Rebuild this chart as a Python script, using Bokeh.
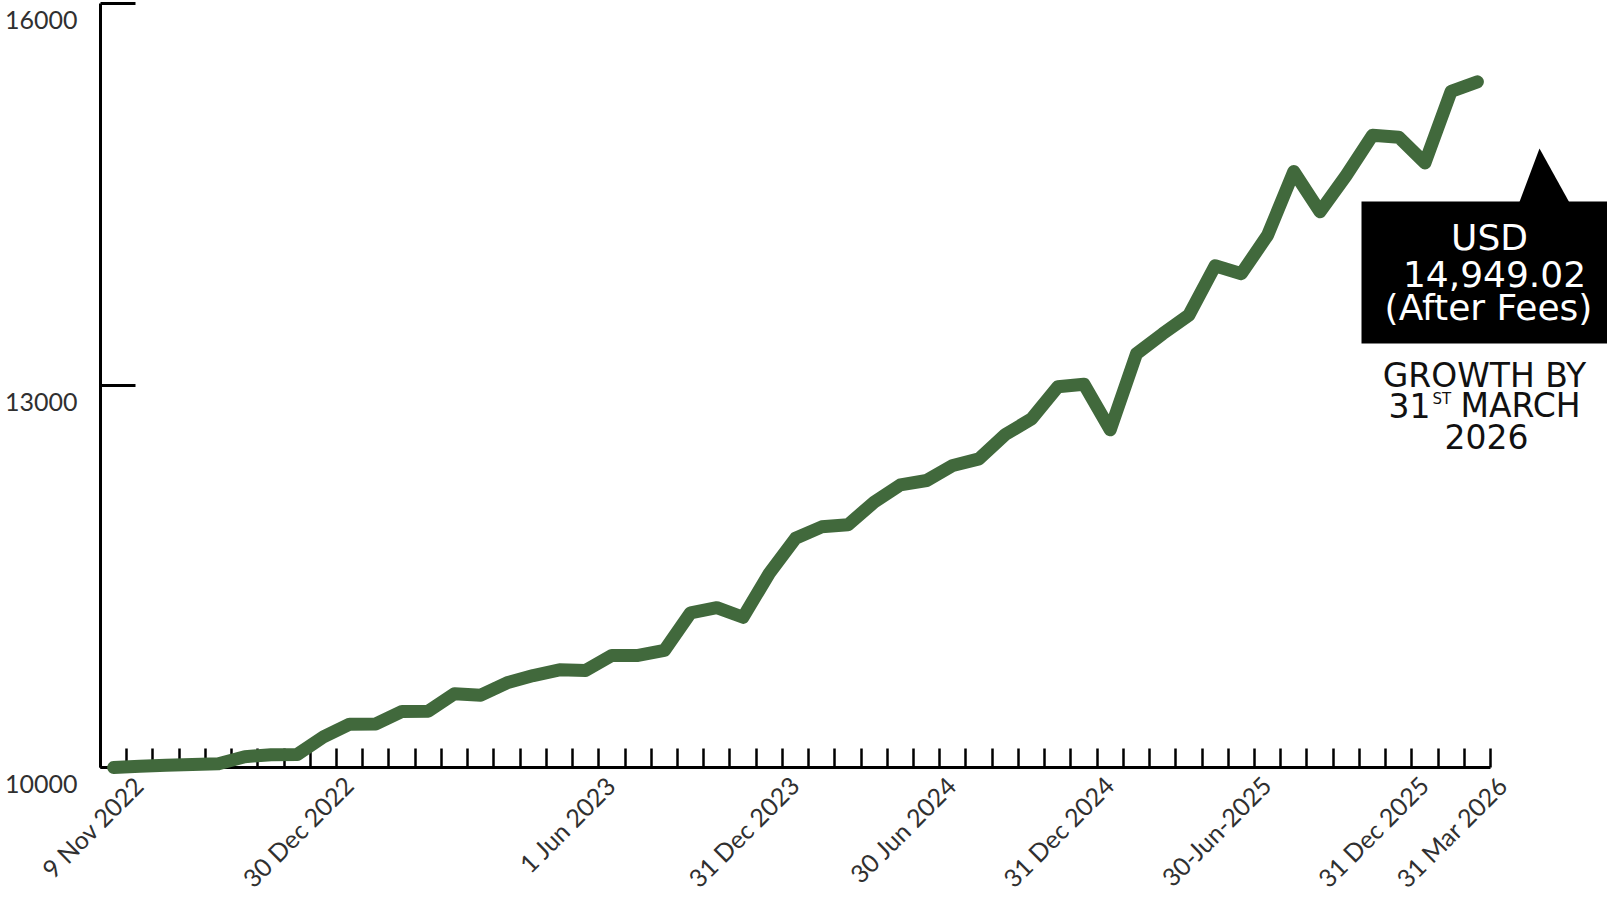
import math
from bokeh.plotting import figure
from bokeh.models import Range1d, LinearAxis, FixedTicker
from bokeh.core.properties import value
from bokeh.embed import file_html
from bokeh.resources import INLINE

# ---- data ----
values = [10000, 10010, 10018, 10024, 10029, 10085, 10100, 10102, 10240, 10340,
          10342, 10440, 10442, 10580, 10568, 10665, 10722, 10767, 10762, 10880,
          10880, 10919, 11215, 11255, 11180, 11525, 11800, 11890, 11906, 12084,
          12220, 12254, 12372, 12424, 12615, 12738, 12990, 13010, 12652, 13249,
          13406, 13553, 13940, 13878, 14180, 14680, 14364, 14650, 14965, 14950,
          14748, 15310, 15385]
label_idx = [0, 8, 18, 25, 31, 37, 43, 49, 52]
label_text = ["9 Nov 2022", "30 Dec 2022", "1 Jun 2023", "31 Dec 2023", "30 Jun 2024",
              "31 Dec 2024", "30-Jun-2025", "31 Dec 2025", "31 Mar 2026"]
y_ticks = [10000, 13000, 16000]
y_tick_labels = ["10000", "13000", "16000"]
callout_lines = ["USD", "14,949.02", "(After Fees)"]
growth_line1 = "GROWTH BY"
growth_line2 = ["31", "ST", "MARCH"]
growth_line3 = "2026"

# ---- layout ----
W, H = 1607, 893
N = len(values)
AX_X, AX_RIGHT = 100, 1490     # screen x of category 0 edge / last edge
AX_Y, TOP_Y = 767, 3           # screen y of 10000 / 16000
ux = (AX_RIGHT - AX_X) / N
uy = (AX_Y - TOP_Y) / (y_ticks[-1] - y_ticks[0])
x_range = Range1d(-AX_X / ux, (W - AX_X) / ux)
y_range = Range1d(y_ticks[0] - (H - AX_Y) / uy, y_ticks[-1] + TOP_Y / uy)


def X(sx):
    return x_range.start + sx / ux


def Y(sy):
    return y_range.end - sy / uy


LABEL_SHIFT = 0.95
GREEN = "#41693C"
BOX_FONT = value("DejaVu Sans")

p = figure(width=W, height=H, output_backend="svg", toolbar_location=None,
           x_range=x_range, y_range=y_range, x_axis_location=None, y_axis_location=None,
           min_border=0, outline_line_color=None, background_fill_color="white")
p.xgrid.visible = False
p.ygrid.visible = False

label_pos = [i + 0.5 + LABEL_SHIFT for i in label_idx]
xaxis = LinearAxis(ticker=FixedTicker(ticks=label_pos, minor_ticks=list(range(N + 1))),
                   fixed_location=y_ticks[0], bounds=(0, N))
xaxis.major_label_overrides = {t: s for t, s in zip(label_pos, label_text)}
xaxis.axis_line_width = 3
xaxis.axis_line_color = "black"
xaxis.major_tick_line_color = None
xaxis.minor_tick_in = 19
xaxis.minor_tick_out = 0
xaxis.minor_tick_line_width = 2.5
xaxis.minor_tick_line_color = "black"
xaxis.major_label_orientation = math.pi / 4
xaxis.major_label_standoff = 7
xaxis.major_label_text_font = "Lato"
xaxis.major_label_text_font_size = "25px"
xaxis.major_label_text_color = "#303030"
p.add_layout(xaxis, "below")

yaxis = LinearAxis(ticker=FixedTicker(ticks=y_ticks), fixed_location=0,
                   bounds=(y_ticks[0], y_ticks[-1]))
yaxis.major_label_overrides = {v: "" for v in y_ticks}
yaxis.axis_line_width = 3
yaxis.axis_line_color = "black"
yaxis.major_tick_in = 35
yaxis.major_tick_out = 0
yaxis.major_tick_line_width = 3
yaxis.major_tick_line_color = "black"
yaxis.minor_tick_line_color = None
p.add_layout(yaxis, "left")

# y tick labels (set a little below their ticks, as in the reference)
p.text(x=[0] * len(y_ticks), y=y_ticks, text=y_tick_labels, x_offset=-23, y_offset=16,
       text_align="right", text_baseline="middle", text_font=value("Lato"),
       text_font_size="25px", text_color="#303030")

# series line
line = p.line(x=[i + 0.5 for i in range(N)], y=values, line_width=13, line_color=GREEN,
              line_join="round", line_cap="round")
line.level = "overlay"

# callout box
p.quad(left=[X(1361)], right=[X(1625)], top=[Y(201)], bottom=[Y(343)],
       fill_color="black", line_color=None)
p.patch(x=[X(1518), X(1539), X(1570)], y=[Y(204), Y(148), Y(204)],
        fill_color="black", line_color=None)
p.text(x=[X(1489), X(1494), X(1488)], y=[Y(237), Y(273), Y(307)], text=callout_lines,
       text_align="center", text_baseline="middle", text_color="white",
       text_font=BOX_FONT, text_font_size="36px")

# growth text
p.text(x=[X(1484), X(1486)], y=[Y(375), Y(436)], text=[growth_line1, growth_line3],
       text_align="center", text_baseline="middle", text_color="#111111",
       text_font=BOX_FONT, text_font_size="33px")
p.text(x=[X(1388), X(1460)], y=[Y(405), Y(405)], text=[growth_line2[0], growth_line2[2]],
       text_align="left", text_baseline="middle", text_color="#111111",
       text_font=BOX_FONT, text_font_size="33px")
p.text(x=[X(1432)], y=[Y(398)], text=[growth_line2[1]], text_align="left",
       text_baseline="middle", text_color="#111111",
       text_font=BOX_FONT, text_font_size="15px")

open("out.html", "w").write(file_html(p, INLINE))
